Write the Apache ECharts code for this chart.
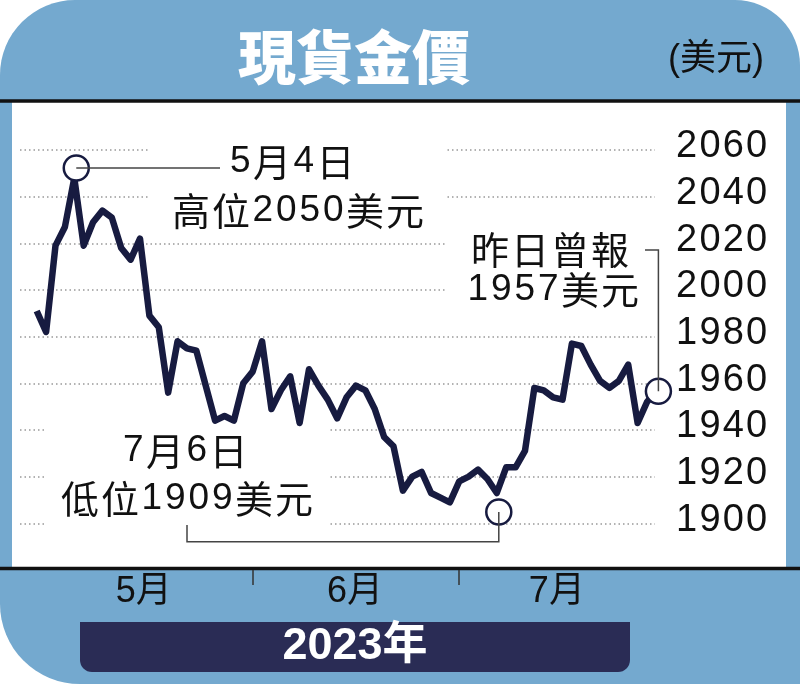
<!DOCTYPE html>
<html><head><meta charset="utf-8">
<script src="https://cdn.jsdelivr.net/npm/echarts@6/dist/echarts.min.js"></script>
<style>html,body{margin:0;padding:0;background:#fff}#c{width:800px;height:684px}</style>
</head><body><div id="c"></div>
<script>
// ---- data ----
const dates = ['04-28',
 '05-01','05-02','05-03','05-04','05-05','05-08','05-09','05-10','05-11','05-12','05-15','05-16','05-17','05-18','05-19','05-22','05-23','05-24','05-25','05-26','05-29','05-30','05-31',
 '06-01','06-02','06-05','06-06','06-07','06-08','06-09','06-12','06-13','06-14','06-15','06-16','06-19','06-20','06-21','06-22','06-23','06-26','06-27','06-28','06-29','06-30',
 '07-03','07-04','07-05','07-06','07-07','07-10','07-11','07-12','07-13','07-14','07-17','07-18','07-19','07-20','07-21','07-24','07-25','07-26','07-27','07-28','07-31'];
const prices = [1991,1982,2019,2027,2048,2019,2029,2034,2031,2018,
 2013,2022,1989,1984,1956,1978,1975,1974,1959,1944,
 1946,1944,1960,1965,1978,1949,1957,1963,1943,1966,
 1959,1953,1945,1954,1959,1957,1949,1937,1933,1914,
 1920,1922,1913,1911,1909,1918,1920,1923,1919,1913,
 1924,1924,1931,1958,1957,1954,1953,1977,1976,1968,
 1961,1958,1961,1968,1943,1952,1957];
const monthNums = [5, 6, 7];
const monthLabels = ['5月', '6月', '7月'];
const yMin = 1900, yMax = 2060, yStep = 20;
const titleText = '現貨金價';
const unitText = '(美元)';
const yearText = '2023年';
const highDate = '05-04', lowDate = '07-06';
const highText = ['5月4日', '高位2050美元'];
const lowText = ['7月6日', '低位1909美元'];
const lastText = ['昨日曾報', '1957美元'];

// ---- derived ----
const monthIdx = monthNums.map(m => dates.map((d, i) => [parseInt(d.slice(0, 2), 10), i]).filter(p => p[0] === m).map(p => p[1]));
const monthTicks = monthIdx.slice(0, -1).map(a => a[a.length - 1]);
const monthLabelPos = monthIdx.map(a => (a[0] + a[a.length - 1]) / 2 - 0.6);

const NAVY = '#171b40';
const FONT = 'Liberation Sans, Arial, Noto Sans CJK TC, sans-serif';

function spaced(str, cSize, dSize, cjkAdv, digAdv, color) {
  let t = '';
  for (const ch of str) t += (/[0-9]/.test(ch) ? '{d|' : '{c|') + ch + '}';
  return {
    text: t,
    rich: {
      d: { width: digAdv, align: 'center', fontSize: dSize, fontFamily: 'Liberation Sans, Arial', fill: color },
      c: { width: cjkAdv, align: 'center', fontSize: cSize, fontFamily: 'Noto Sans CJK TC', fill: color }
    }
  };
}

const chart = echarts.init(document.getElementById('c'), null, { renderer: 'canvas' });
const hi = dates.indexOf(highDate), lo = dates.indexOf(lowDate), la = prices.length - 1;

const option = {
  animation: false,
  grid: { left: 20, right: 145, top: 150, bottom: 160.7 },
  xAxis: {
    type: 'value', min: -1.78, max: 65.85, offset: 46.7,
    axisLine: { show: false }, splitLine: { show: false },
    axisTick: { show: true, customValues: monthTicks, length: 15, lineStyle: { color: '#333', width: 1.5 } },
    axisLabel: {
      customValues: monthLabelPos, margin: 22, verticalAlign: 'middle',
      fontSize: 36, color: '#111', fontFamily: FONT,
      formatter: v => { const k = monthLabelPos.findIndex(p => Math.abs(p - v) < 1e-6); return k >= 0 ? monthLabels[k] : ''; }
    }
  },
  yAxis: {
    type: 'value', position: 'right', min: yMin, max: yMax, interval: yStep,
    axisLine: { show: false }, axisTick: { show: false },
    splitLine: { show: true, lineStyle: { color: '#999', type: [1.5, 3], width: 1.5 } },
    axisLabel: {
      margin: 20, align: 'left', verticalAlign: 'middle', padding: [0, 0, 6, 0],
      formatter: v => String(v).split('').map(ch => '{d|' + ch + '}').join(''),
      rich: { d: { width: 23.3, align: 'center', fontSize: 38, color: '#111', fontFamily: 'Liberation Sans, Arial' } }
    }
  },
  series: [{
    type: 'line', data: prices.map((v, i) => [i, v]), symbol: 'none', clip: false, z: 3,
    lineStyle: { color: NAVY, width: 6.5, join: 'round' }
  }]
};
chart.setOption(option);

const p1 = chart.convertToPixel({ seriesIndex: 0 }, [hi, prices[hi]]);
const p2 = chart.convertToPixel({ seriesIndex: 0 }, [lo, prices[lo]]);
const p3 = chart.convertToPixel({ seriesIndex: 0 }, [la, prices[la]]);
const c1 = [p1[0] + 2, p1[1] - 10], c2 = [p2[0] + 2, p2[1] + 19], c3 = [p3[0] + 2, p3[1] + 1];

function txt(str, x, y) {
  const s = spaced(str, 38, 37, 40, 23.5, '#111');
  return { type: 'text', z: 10, style: { text: s.text, rich: s.rich, x: x, y: y, align: 'center', verticalAlign: 'middle', fill: '#111' } };
}
function ring(c) {
  return { type: 'circle', z: 6, shape: { cx: c[0], cy: c[1], r: 12.5 }, style: { fill: '#fff', stroke: NAVY, lineWidth: 2.5 } };
}
const leader = { stroke: '#444', lineWidth: 1.5, fill: null };

chart.setOption({
  graphic: [
    { type: 'rect', z: -10, shape: { x: 0, y: 0, width: 800, height: 684, r: [75, 65, 0, 80] }, style: { fill: '#74a9cf' } },
    { type: 'rect', z: -9, shape: { x: 12, y: 101, width: 774, height: 467 }, style: { fill: '#fff' } },
    { type: 'line', z: -8, shape: { x1: 0, y1: 101, x2: 800, y2: 101 }, style: { stroke: '#111', lineWidth: 3.5 } },
    { type: 'line', z: -8, shape: { x1: 0, y1: 568.5, x2: 800, y2: 568.5 }, style: { stroke: '#111', lineWidth: 3.5 } },
    { type: 'rect', z: -9, shape: { x: 80, y: 622, width: 550, height: 50, r: [0, 0, 12, 12] }, style: { fill: '#2a2c55' } },
    { type: 'text', z: 10, style: { text: titleText, x: 354, y: 57, align: 'center', verticalAlign: 'middle', fill: '#fff', font: '900 58px "Noto Sans CJK TC"' } },
    { type: 'text', z: 10, style: { text: unitText, x: 716, y: 60, align: 'center', verticalAlign: 'middle', fill: '#111', font: '36px "Liberation Sans", "Noto Sans CJK TC"' } },
    { type: 'text', z: 10, style: { text: yearText, x: 355, y: 647, align: 'center', verticalAlign: 'middle', fill: '#fff', font: 'bold 45px "Liberation Sans", "Noto Sans CJK TC"' } },
    // white masks behind annotations
    { type: 'rect', z: 1, shape: { x: 150, y: 138, width: 297, height: 90 }, style: { fill: '#fff' } },
    { type: 'rect', z: 1, shape: { x: 445, y: 228, width: 215, height: 78 }, style: { fill: '#fff' } },
    { type: 'rect', z: 1, shape: { x: 47, y: 427, width: 281, height: 108 }, style: { fill: '#fff' } },
    txt(highText[0], 292, 162), txt(highText[1], 298, 211),
    txt(lastText[0], 550, 250), txt(lastText[1], 553, 290),
    txt(lowText[0], 185, 451), txt(lowText[1], 187, 499),
    ring(c1), ring(c2), ring(c3),
    { type: 'polyline', z: 10, shape: { points: [c1, [220, c1[1]]] }, style: leader },
    { type: 'polyline', z: 10, shape: { points: [[645, 250], [c3[0], 250], c3] }, style: leader },
    { type: 'polyline', z: 10, shape: { points: [[187, 525], [187, 541.7], [c2[0], 541.7], c2] }, style: leader }
  ]
});
</script></body></html>
